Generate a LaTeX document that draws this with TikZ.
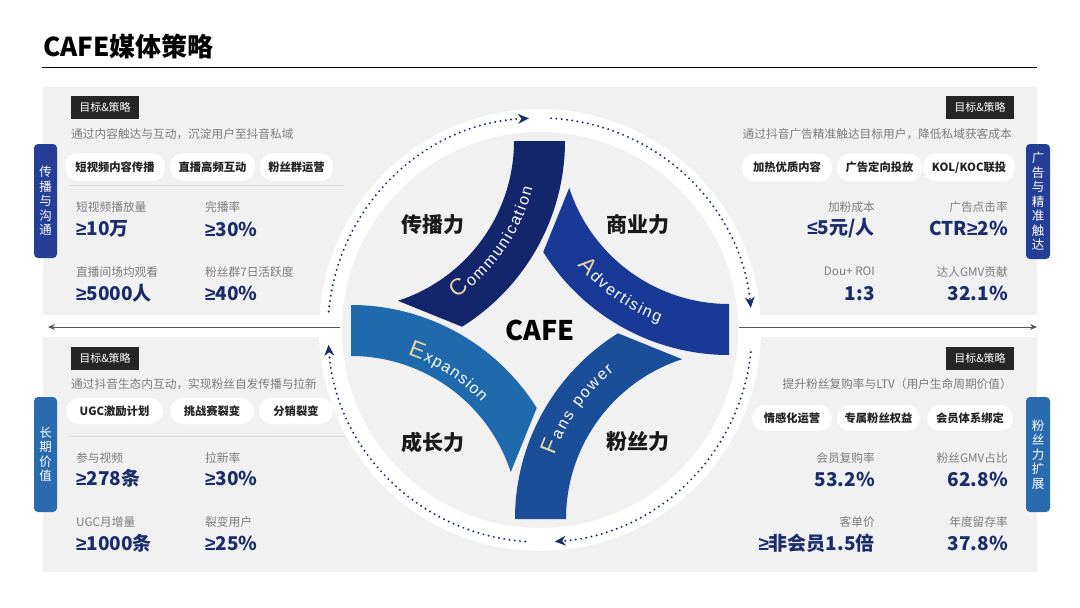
\documentclass[tikz,border=0pt]{standalone}
\usepackage{fontspec}
\setmainfont{Noto Sans CJK SC}
\newfontfamily\bandfont{Liberation Sans}
\newfontfamily\symfont{Liberation Sans}
\usepackage{tikz}
\usetikzlibrary{arrows.meta,decorations.text}
\definecolor{cpanel}{HTML}{F1F1F1}
\definecolor{cnavy}{HTML}{1C2E6E}
\definecolor{cvalue}{HTML}{1B2C6B}
\definecolor{cbandC}{HTML}{13266B}
\definecolor{cbandA}{HTML}{183A96}
\definecolor{cbandF}{HTML}{1B4E98}
\definecolor{cbandE}{HTML}{1F6AAD}
\definecolor{ctabtop}{HTML}{243F95}
\definecolor{ctabbot}{HTML}{2A6BB0}
\definecolor{cgold}{HTML}{E6D6A5}
\definecolor{clabel}{HTML}{7C7C7C}
\definecolor{cink}{HTML}{222222}
\definecolor{cbadge}{HTML}{262626}
\definecolor{caxis}{HTML}{555555}
\definecolor{csep}{HTML}{DADADA}
\newcommand\gesym{{\symfont ≥}}
\newcommand\lesym{{\symfont ≤}}
\newcommand\bandcap{\bandfont\fontsize{23}{23}\selectfont\color{cgold}}
\newcommand\bandlow{\bandfont\fontsize{16}{16}\selectfont\color{white}}
\tikzset{
  >={Stealth[length=11pt,width=10pt,inset=3.5pt,line width=0pt]},
  badge/.style={fill=cbadge,text=white,font=\fontsize{11}{11}\selectfont,minimum width=68pt,minimum height=23pt,inner sep=0pt},
  pill/.style={fill=white,rounded corners=13pt,minimum height=28pt,inner sep=0pt,text=cink,font=\bfseries\fontsize{11.3}{11.3}\selectfont},
  tab/.style={rounded corners=4pt,minimum width=23pt,inner sep=0pt,text=white,align=center,font=\fontsize{12.5}{14.5}\selectfont},
  subline/.style={inner sep=0pt,text=clabel,font=\fontsize{11.7}{11.7}\selectfont},
  mlabel/.style={inner sep=0pt,text=clabel,font=\fontsize{11.7}{11.7}\selectfont},
  mvalue/.style={inner sep=0pt,text=cvalue,font=\bfseries\fontsize{19}{19}\selectfont},
  hub/.style={inner sep=0pt,text=black!90,font=\bfseries\fontsize{21}{21}\selectfont},
  dots/.style={cnavy,line width=2.2pt,line cap=round,dash pattern=on 0pt off 5.3pt},
  axis/.style={caxis,line width=1pt},
  sep/.style={csep,line width=0.8pt}
}

\begin{document}
\begin{tikzpicture}[x=1pt,y=1pt]
\useasboundingbox (0,0) rectangle (1080,-608);
\fill[white] (0,0) rectangle (1080,-608);

% ============ title ============
\node[anchor=west,inner sep=0pt,font=\bfseries\fontsize{26}{26}\selectfont] (title) at (43,-47) {CAFE媒体策略};
\coordinate (ruleL) at (42,-67.5);
\coordinate (ruleR) at (1037,-67.5);
\draw[line width=1.3pt] (ruleL) -- (ruleR);

% ============ background panels and ring ============
\fill[cpanel] (43,-87) rectangle (1037,-315);
\fill[cpanel] (43,-337) rectangle (1037,-572);
\fill[white] (540,-330) circle[radius=221];
\fill[cpanel] (540,-330) circle[radius=198];

\coordinate (axL) at (48,-327);
\coordinate (axLin) at (340,-327);
\coordinate (axRin) at (739,-327);
\coordinate (axR) at (1037,-327);
\draw[axis,-{Stealth[length=7pt,width=6pt]}] (axLin) -- (axL);
\draw[axis,-{Stealth[length=7pt,width=6pt]}] (axRin) -- (axR);

% ============ centre wheel ============
\begin{scope}[shift={(540,-330)}]
  \draw[dots,->] (175:212) arc[start angle=175,end angle=93,radius=212];
  \draw[dots,->] (87:212) arc[start angle=87,end angle=6,radius=212];
  \draw[dots,->] (-6:212) arc[start angle=-6,end angle=-86,radius=212];
  \draw[dots,->] (-94:212) arc[start angle=-94,end angle=-176,radius=212];
  \foreach \rot/\col in {0/cbandC,-90/cbandA,180/cbandF,90/cbandE}
    \fill[\col,rotate=\rot,shift={(-194,189)}] (0:219) arc[start angle=0,end angle=-58,radius=219]
      -- (-72:168) arc[start angle=-72,end angle=0,radius=168] -- cycle;
  \begin{scope}[shift={(-194,189)}]
    \path[decorate,decoration={text along path,text align=fit to path,text={|\bandcap|C|\bandlow|ommunication}}]
      (-55:192.5) arc[start angle=-55,end angle=-14,radius=192.5];
  \end{scope}
  \begin{scope}[rotate=-90,shift={(-194,189)}]
    \path[decorate,decoration={text along path,text align=fit to path,text={|\bandcap|A|\bandlow|dvertising}}]
      (-49.5:199) arc[start angle=-49.5,end angle=-20.5,radius=199];
  \end{scope}
  \begin{scope}[rotate=180,shift={(-194,189)}]
    \path[decorate,decoration={text along path,text align=fit to path,text={|\bandcap|F|\bandlow|ans power}}]
      (-19.5:190.5) arc[start angle=-19.5,end angle=-51,radius=190.5];
  \end{scope}
  \begin{scope}[rotate=90,shift={(-194,189)}]
    \path[decorate,decoration={text along path,text align=fit to path,text={|\bandcap|E|\bandlow|xpansion}}]
      (-18.5:178.5) arc[start angle=-18.5,end angle=-47,radius=178.5];
  \end{scope}
\end{scope}
\node[hub] (hubC) at (433,-225) {传播力};
\node[hub] (hubA) at (638,-225) {商业力};
\node[hub] (hubE) at (433,-442) {成长力};
\node[hub] (hubF) at (638,-442) {粉丝力};
\node[inner sep=0pt,font=\bfseries\fontsize{27}{27}\selectfont] (cafe) at (540,-330) {CAFE};

% ============ Panel TL: communication ============
\node[badge] (badgeTL) at (105,-107.5) {目标\&策略};
\node[subline,anchor=west] (subTL) at (71,-134) {通过内容触达与互动，沉淀用户至抖音私域};
\foreach \i/\cx/\w/\t in {1/115/100/短视频内容传播,2/212.5/85/直播高频互动,3/296.5/73/粉丝群运营}
  \node[pill,minimum width=\w pt] (pillTL\i) at (\cx,-167) {\t};
\coordinate (sepTLa) at (70,-185);
\coordinate (sepTLb) at (345,-185);
\draw[sep] (sepTLa) -- (sepTLb);
\foreach \i/\x/\y/\lab/\val in {1/76/207.3/短视频播放量/{\gesym 10万},2/205/207.3/完播率/{\gesym 30\%},
    3/76/271.7/直播间场均观看/{\gesym 5000人},4/205/271.7/粉丝群7日活跃度/{\gesym 40\%}}
{
  \node[mlabel,anchor=west] (mlabTL\i) at (\x,-\y) {\lab};
  \node[mvalue,anchor=west] (mvalTL\i) at (\x,-\y-21.7) {\val};
}
\node[tab,fill=ctabtop,minimum height=114pt] (tabTL) at (45.5,-201) {传\\播\\与\\沟\\通};

% ============ Panel TR: advertising ============
\node[badge] (badgeTR) at (980,-107.5) {目标\&策略};
\node[subline,anchor=east] (subTR) at (1012,-134) {通过抖音广告精准触达目标用户，降低私域获客成本};
\foreach \i/\cx/\w/\t in {1/787/90/加热优质内容,2/879.5/85/广告定向投放,3/969/92/{KOL/KOC联投}}
  \node[pill,minimum width=\w pt] (pillTR\i) at (\cx,-167.5) {\t};
\foreach \i/\x/\y/\lab/\val in {1/875/206.7/加粉成本/{\lesym 5元/人},2/1008/206.7/广告点击率/{CTR\gesym 2\%},
    3/875/271.7/Dou+ ROI/{1:3},4/1008/271.7/达人GMV贡献/{32.1\%}}
{
  \node[mlabel,anchor=east] (mlabTR\i) at (\x,-\y) {\lab};
  \node[mvalue,anchor=east] (mvalTR\i) at (\x,-\y-21.7) {\val};
}
\node[tab,fill=ctabtop,minimum height=115pt,minimum width=24pt] (tabTR) at (1038,-201.5) {广\\告\\与\\精\\准\\触\\达};

% ============ Panel BL: expansion ============
\node[badge] (badgeBL) at (105,-358) {目标\&策略};
\node[subline,anchor=west] (subBL) at (71,-384) {通过抖音生态内互动，实现粉丝自发传播与拉新};
\foreach \i/\cx/\w/\t in {1/114.5/97/UGC激励计划,2/212/84/挑战赛裂变,3/296/74/分销裂变}
  \node[pill,minimum width=\w pt,minimum height=26pt] (pillBL\i) at (\cx,-411) {\t};
\coordinate (sepBLa) at (70,-436);
\coordinate (sepBLb) at (345,-436);
\draw[sep] (sepBLa) -- (sepBLb);
\foreach \i/\x/\y/\lab/\val in {1/76/457.7/参与视频/{\gesym 278条},2/205/457.7/拉新率/{\gesym 30\%},
    3/76/522/UGC月增量/{\gesym 1000条},4/205/522/裂变用户/{\gesym 25\%}}
{
  \node[mlabel,anchor=west] (mlabBL\i) at (\x,-\y) {\lab};
  \node[mvalue,anchor=west] (mvalBL\i) at (\x,-\y-21) {\val};
}
\node[tab,fill=ctabbot,minimum height=115pt] (tabBL) at (45.5,-454.5) {长\\期\\价\\值};

% ============ Panel BR: fans power ============
\node[badge] (badgeBR) at (980,-358) {目标\&策略};
\node[subline,anchor=east] (subBR) at (1012,-384) {提升粉丝复购率与LTV（用户生命周期价值）};
\foreach \i/\cx/\w/\t in {1/792/80/情感化运营,2/878.5/83/专属粉丝权益,3/970/86/会员体系绑定}
  \node[pill,minimum width=\w pt,minimum height=26pt] (pillBR\i) at (\cx,-418) {\t};
\foreach \i/\x/\y/\lab/\val in {1/875/457.7/会员复购率/{53.2\%},2/1008/457.7/粉丝GMV占比/{62.8\%},
    3/875/521.7/客单价/{\gesym 非会员1.5倍},4/1008/521.7/年度留存率/{37.8\%}}
{
  \node[mlabel,anchor=east] (mlabBR\i) at (\x,-\y) {\lab};
  \node[mvalue,anchor=east] (mvalBR\i) at (\x,-\y-21.7) {\val};
}
\node[tab,fill=ctabbot,minimum height=115pt,minimum width=24pt] (tabBR) at (1038,-454.5) {粉\\丝\\力\\扩\\展};

\end{tikzpicture}
\end{document}
